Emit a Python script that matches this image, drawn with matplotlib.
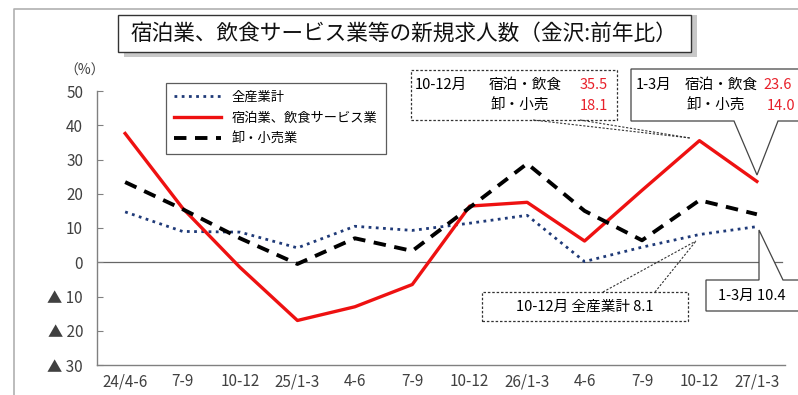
import matplotlib
matplotlib.use("Agg")
import matplotlib.pyplot as plt
from matplotlib.lines import Line2D
from matplotlib.patches import Rectangle, Polygon
from matplotlib.transforms import IdentityTransform

plt.rcParams['font.family'] = ['Noto Sans CJK JP', 'DejaVu Sans']

# データ（前年比 %）
periods = ['24/4-6', '7-9', '10-12', '25/1-3', '4-6', '7-9',
           '10-12', '26/1-3', '4-6', '7-9', '10-12', '27/1-3']
total = [14.7, 9.0, 8.8, 4.2, 10.5, 9.3, 11.4, 13.7, 0.2, 4.4, 8.1, 10.4]
hotel_food = [37.6, 15.8, -1.5, -17.0, -13.0, -6.5, 16.4, 17.5, 6.2, 21.0, 35.5, 23.6]
retail = [23.4, 15.5, 7.0, -0.5, 7.0, 3.3, 16.0, 28.8, 15.0, 6.4, 18.1, 14.0]
ytick_vals = [-30, -20, -10, 0, 10, 20, 30, 40, 50]
ytick_labels = ['▲ 30', '▲ 20', '▲ 10', '0', '10', '20', '30', '40', '50']

W, H = 798, 395
fig = plt.figure(figsize=(W / 100, H / 100), dpi=100)
ID = IdentityTransform()


def P(x, y):
    # 画像座標(左上原点) -> 表示座標
    return (x, H - y)


ax = fig.add_axes([97 / W, 1 - 365 / H, (785 - 97) / W, (365 - 91) / H])
xs = range(len(periods))
ax.plot(xs, total, linestyle=(0, (1, 1.6)), color='#1f3a78', lw=2.0, label='全産業計')
ax.plot(xs, hotel_food, color='#ee1111', lw=2.4, label='宿泊業、飲食サービス業')
ax.plot(xs, retail, linestyle=(0, (3.2, 2.2)), color='black', lw=2.8, label='卸・小売業')
ax.plot([-0.49, 11.43], [0, 0], color='#666666', lw=0.9, zorder=1)

ax.set_xlim(-0.49, 11.49)
ax.set_ylim(-30, 50)
ax.set_xticks(list(xs))
ax.set_xticklabels(periods, fontsize=11, color='#404040')
ax.set_yticks(ytick_vals)
ax.set_yticklabels(ytick_labels, fontsize=11, color='#404040')
ax.tick_params(axis='x', length=0, pad=6)
ax.tick_params(axis='y', direction='in', length=4, color='#808080', pad=10)
for s in ['top', 'right']:
    ax.spines[s].set_visible(False)
for s in ['left', 'bottom']:
    ax.spines[s].set_color('#808080')
    ax.spines[s].set_linewidth(1.0)

fig.text(*P(85, 71), '（%）', transform=ID, fontsize=10, color='#404040', ha='center', va='center')

leg = ax.legend(loc='upper left', bbox_to_anchor=(166 / W, 1 - 83 / H), bbox_transform=fig.transFigure,
                fontsize=9.5, frameon=True, fancybox=False, handlelength=3.6, borderpad=0.6,
                labelspacing=0.6, borderaxespad=0)
leg.get_frame().set_edgecolor('#333333')
leg.get_frame().set_linewidth(0.9)

# 外枠
fig.add_artist(Line2D([14, 14, W], [0, H - 9, H - 9], transform=ID, color='#b0b0b0', lw=1.2))

# タイトルボックス
fig.add_artist(Rectangle(P(124, 57), 573, 42, transform=ID, facecolor='#c8c8c8', edgecolor='none'))
fig.add_artist(Rectangle(P(118, 52), 573, 37, transform=ID, facecolor='white', edgecolor='#333333', lw=1.0))
fig.text(*P(404, 34), '宿泊業、飲食サービス業等の新規求人数（金沢:前年比）', transform=ID,
         fontsize=15.6, ha='center', va='center', color='#111111')

# 注記1（点線枠）
fig.add_artist(Rectangle(P(411, 120), 206, 50, transform=ID, facecolor='white', edgecolor='#333333',
                         lw=0.9, linestyle=(0, (2, 1.5))))
fig.add_artist(Line2D([533, 690], [H - 120, H - 138], transform=ID, color='#333333', lw=0.8, linestyle=(0, (2, 1.5))))
fig.add_artist(Line2D([580, 690], [H - 120, H - 138], transform=ID, color='#333333', lw=0.8, linestyle=(0, (2, 1.5))))
fs = 10.5
fig.text(*P(415, 85), '10-12月', transform=ID, fontsize=fs, va='center')
fig.text(*P(489, 85), '宿泊・飲食', transform=ID, fontsize=fs, va='center')
fig.text(*P(608, 85), f'{hotel_food[10]:.1f}', transform=ID, fontsize=fs, va='center', ha='right', color='#e8202a')
fig.text(*P(491, 106), '卸・小売', transform=ID, fontsize=fs, va='center')
fig.text(*P(608, 106), f'{retail[10]:.1f}', transform=ID, fontsize=fs, va='center', ha='right', color='#e8202a')

# 注記2（吹き出し）
fig.add_artist(Polygon([P(631, 69), P(800, 69), P(800, 121), P(778, 121), P(757, 175), P(734, 121), P(631, 121)],
                       closed=True, transform=ID, facecolor='white', edgecolor='#444444', lw=0.9))
fig.text(*P(636, 85), '1-3月', transform=ID, fontsize=fs, va='center')
fig.text(*P(685, 85), '宿泊・飲食', transform=ID, fontsize=fs, va='center')
fig.text(*P(763, 85), f'{hotel_food[11]:.1f}', transform=ID, fontsize=fs, va='center', color='#e8202a')
fig.text(*P(687, 106), '卸・小売', transform=ID, fontsize=fs, va='center')
fig.text(*P(767, 106), f'{retail[11]:.1f}', transform=ID, fontsize=fs, va='center', color='#e8202a')

# 注記3（点線枠）
fig.add_artist(Rectangle(P(482, 321), 206, 29, transform=ID, facecolor='white', edgecolor='#333333',
                         lw=0.9, linestyle=(0, (2, 1.5))))
fig.add_artist(Line2D([603, 696], [H - 292, H - 241], transform=ID, color='#333333', lw=0.8, linestyle=(0, (2, 1.5))))
fig.add_artist(Line2D([655, 696], [H - 292, H - 241], transform=ID, color='#333333', lw=0.8, linestyle=(0, (2, 1.5))))
fig.text(*P(585, 307), f'10-12月 全産業計 {total[10]:.1f}', transform=ID, fontsize=fs, va='center', ha='center')

# 注記4（吹き出し）
fig.add_artist(Polygon([P(706, 280), P(759, 280), P(759, 230), P(783, 280), P(800, 280), P(800, 311), P(706, 311)],
                       closed=True, transform=ID, facecolor='white', edgecolor='#444444', lw=0.9))
fig.text(*P(752, 296), f'1-3月 {total[11]:.1f}', transform=ID, fontsize=fs, va='center', ha='center')

fig.savefig('out.png', dpi=100)
